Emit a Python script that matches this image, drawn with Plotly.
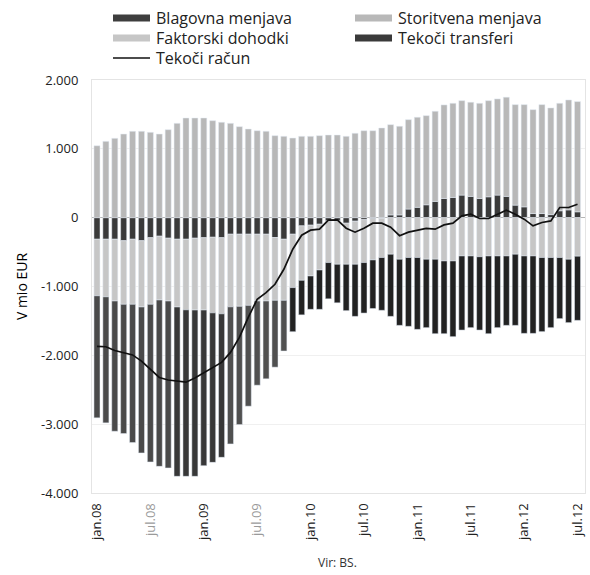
import plotly.graph_objects as go

MONTHS = ["jan", "feb", "mar", "apr", "maj", "jun", "jul", "avg", "sep", "okt", "nov", "dec"]
YEARS = ["08", "09", "10", "11", "12"]
categories = [f"{m}.{y}" for y in YEARS for m in MONTHS][:55]

# 12-month sums, mio EUR
blagovna = [-1773, -1831, -1892, -1878, -2009, -2120, -2290, -2417, -2425, -2460,
            -2419, -2416, -2261, -2172, -2085, -1991, -1718, -1465, -1223, -1130,
            -971, -736, -641, -502, -485, -572, -527, -560, -674, -757,
            -734, -706, -767, -903, -961, -1000, -1044, -994, -1082, -1057,
            -1100, -1077, -1042, -1065, -1130, -1042, -1009, -1034, -1125, -1125,
            -1077, -1019, -888, -921, -932]
storitvena = [1045, 1109, 1153, 1215, 1255, 1255, 1240, 1215, 1278, 1371,
              1448, 1448, 1448, 1409, 1386, 1371, 1322, 1288, 1263, 1255,
              1191, 1182, 1157, 1182, 1182, 1191, 1201, 1201, 1182, 1226,
              1263, 1263, 1303, 1311, 1288, 1299, 1309, 1295, 1310, 1359,
              1368, 1372, 1368, 1383, 1397, 1397, 1441, 1460, 1485, 1509,
              1582, 1549, 1562, 1597, 1601]
faktorski = [-822, -837, -898, -924, -946, -963, -968, -927, -913, -985,
             -1026, -1044, -1051, -1099, -1106, -1056, -1048, -1034, -971, -971,
             -913, -888, -776, -791, -738, -665, -605, -630, -597, -626,
             -623, -599, -572, -531, -604, -579, -579, -604, -604, -629,
             -629, -556, -556, -568, -556, -556, -556, -531, -556, -556,
             -579, -579, -579, -604, -560]
transferi = [-313, -313, -313, -335, -313, -335, -291, -269, -298, -313,
             -313, -298, -291, -284, -291, -240, -240, -240, -240, -240,
             -288, -313, -240, -119, -109, -95, -47, -47, -80, -51,
             -29, -15, -7, 40, 40, 125, 150, 187, 236, 279,
             294, 328, 309, 279, 303, 328, 309, 182, 157, 60,
             60, 45, 100, 113, 85]
tekoci_racun = [-1870, -1875, -1929, -1962, -1994, -2084, -2205, -2322, -2358, -2373,
                -2390, -2329, -2253, -2169, -2103, -1958, -1739, -1448, -1186, -1089,
                -968, -750, -459, -255, -182, -167, -36, -32, -153, -211,
                -153, -80, -80, -138, -262, -211, -189, -157, -167, -105,
                -80, 26, 51, -12, -12, 51, 109, 51, -22, -119,
                -70, -47, 148, 148, 196]

x_tick_vals = ["jan.08", "jul.08", "jan.09", "jul.09", "jan.10",
               "jul.10", "jan.11", "jul.11", "jan.12", "jul.12"]
x_tick_text = ["jan.08", "<span style='color:#9a9a9a'>jul.08</span>", "jan.09",
               "<span style='color:#9a9a9a'>jul.09</span>", "jan.10",
               "jul.10", "jan.11", "jul.11", "jan.12", "jul.12"]
y_tick_vals = [2000, 1000, 0, -1000, -2000, -3000, -4000]
y_tick_text = ["2.000", "1.000", "0", "-1.000", "-2.000", "-3.000", "-4.000"]

legend_names = ["Blagovna menjava", "Storitvena menjava", "Faktorski dohodki",
                "Tekoči transferi", "Tekoči račun"]

# styles
C_SERV = "#b8b8b8"
C_FACT = "#c6c6c6"
C_TRANS = "#3a3a3a"
C_LINE = "#111111"
goods_colors = ["#4a4a4a"] * 9 + ["#383838"] * 6 + ["#505050"] * 7 + ["#222222"] * 33
C_GOODS_LEG = "#3e3e3e"
FONT = "Open Sans"

W, H = 590, 575
ML, MR, MT, MB = 92, 5, 80, 82
PW, PH = W - ML - MR, H - MT - MB


def px_x(px):
    return (px - ML) / PW


def px_y(py):
    return (H - MB - py) / PH


fig = go.Figure()
fig.add_trace(go.Bar(x=categories, y=transferi, marker_color=C_TRANS, name=legend_names[3],
                     showlegend=False))
fig.add_trace(go.Bar(x=categories, y=faktorski, marker_color=C_FACT, name=legend_names[2],
                     showlegend=False))
fig.add_trace(go.Bar(x=categories, y=storitvena, marker_color=C_SERV, name=legend_names[1],
                     showlegend=False))
fig.add_trace(go.Bar(x=categories, y=blagovna, marker_color=goods_colors, name=legend_names[0],
                     showlegend=False))
fig.add_trace(go.Scatter(x=categories, y=tekoci_racun, mode="lines", name=legend_names[4],
                         line=dict(color=C_LINE, width=1.7), showlegend=False))

# hand-built legend (wide swatches, two columns, like the original)
col_x = [113, 355]
row_y = [18, 38, 58]
legend_items = [(legend_names[0], C_GOODS_LEG, 0, 0, "box"),
                (legend_names[1], C_SERV, 1, 0, "box"),
                (legend_names[2], C_FACT, 0, 1, "box"),
                (legend_names[3], C_TRANS, 1, 1, "box"),
                (legend_names[4], C_LINE, 0, 2, "line")]
shapes = []
annotations = []
for name, col, c, r, kind in legend_items:
    x0, x1 = col_x[c], col_x[c] + 37
    yc = row_y[r]
    if kind == "box":
        shapes.append(dict(type="rect", xref="paper", yref="paper",
                           x0=px_x(x0), x1=px_x(x1), y0=px_y(yc + 3.5), y1=px_y(yc - 3.5),
                           fillcolor=col, line=dict(width=0)))
    else:
        shapes.append(dict(type="line", xref="paper", yref="paper",
                           x0=px_x(x0), x1=px_x(x1), y0=px_y(yc), y1=px_y(yc),
                           line=dict(color=col, width=1.6)))
    annotations.append(dict(text=name, xref="paper", yref="paper", x=px_x(x1 + 4), y=px_y(yc),
                            xanchor="left", yanchor="middle", showarrow=False,
                            font=dict(size=16, color="#222222")))

annotations.append(dict(text="Vir: BS.", xref="paper", yref="paper", x=px_x(337), y=px_y(562),
                        xanchor="center", yanchor="middle", showarrow=False,
                        font=dict(size=12, color="#333333")))

fig.update_layout(
    width=W, height=H,
    margin=dict(l=ML, r=MR, t=MT, b=MB, autoexpand=False),
    paper_bgcolor="white", plot_bgcolor="white",
    barmode="relative", bargap=0.32,
    font=dict(family=FONT, size=13, color="#222222"),
    showlegend=False,
    shapes=shapes,
    annotations=annotations,
)
fig.update_xaxes(type="category", categoryorder="array", categoryarray=categories,
                 range=[-0.56, 54.84], tickmode="array", tickvals=x_tick_vals,
                 ticktext=x_tick_text, tickangle=-90, ticks="", automargin=False,
                 tickfont=dict(size=13, color="#222222"), ticklabelstandoff=4,
                 showgrid=False, showline=True, linecolor="#e4e4e4", mirror=True)
fig.update_yaxes(range=[-4000, 2000], tickmode="array", tickvals=y_tick_vals,
                 ticktext=y_tick_text, ticks="", ticklabelstandoff=10, automargin=False,
                 tickfont=dict(size=13, color="#222222"),
                 showgrid=True, gridcolor="#f0f0f0", zeroline=True,
                 zerolinecolor="#b5b5b5", zerolinewidth=1,
                 showline=True, linecolor="#e4e4e4", mirror=True,
                 title=dict(text="V mio EUR", standoff=10,
                            font=dict(size=14, color="#000000")))

fig.write_html("out.html", config={"displayModeBar": False},
               post_script="document.body.style.margin='0';")
